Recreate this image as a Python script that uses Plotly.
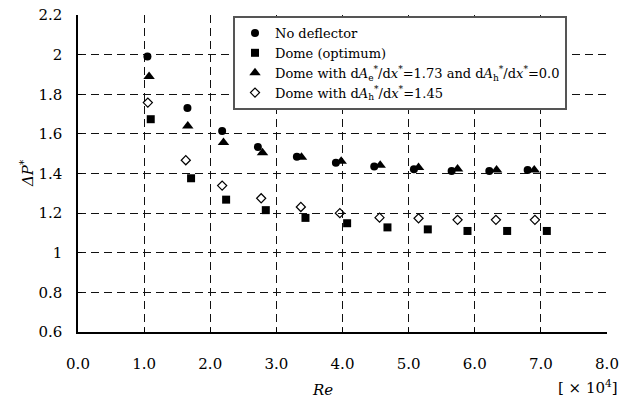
import plotly.graph_objects as go

x_nodef = [1.05, 1.655, 2.18, 2.72, 3.31, 3.90, 4.48, 5.08, 5.65, 6.22, 6.80]
y_nodef = [1.99, 1.73, 1.615, 1.534, 1.484, 1.454, 1.435, 1.421, 1.413, 1.413, 1.418]

x_opt = [1.10, 1.71, 2.24, 2.84, 3.44, 4.07, 4.68, 5.29, 5.89, 6.49, 7.09]
y_opt = [1.674, 1.376, 1.268, 1.215, 1.176, 1.149, 1.128, 1.118, 1.11, 1.11, 1.11]

x_tri = [1.075, 1.66, 2.20, 2.79, 3.38, 3.98, 4.57, 5.15, 5.74, 6.33, 6.90]
y_tri = [1.889, 1.64, 1.556, 1.505, 1.482, 1.462, 1.442, 1.43, 1.423, 1.418, 1.418]

x_dia = [1.056, 1.63, 2.18, 2.77, 3.37, 3.96, 4.56, 5.15, 5.74, 6.32, 6.91]
y_dia = [1.758, 1.467, 1.339, 1.275, 1.231, 1.20, 1.177, 1.174, 1.166, 1.166, 1.166]

names = [
    "No deflector",
    "Dome (optimum)",
    "Dome with d<i>A</i><sub>e</sub><sup>*</sup>/d<i>x</i><sup>*</sup>=1.73 and d<i>A</i><sub>h</sub><sup>*</sup>/d<i>x</i><sup>*</sup>=0.0",
    "Dome with d<i>A</i><sub>h</sub><sup>*</sup>/d<i>x</i><sup>*</sup>=1.45",
]

x_ticks = [0, 1, 2, 3, 4, 5, 6, 7, 8]
x_ticktext = ["0.0", "1.0", "2.0", "3.0", "4.0", "5.0", "6.0", "7.0", "8.0"]
y_ticks = [0.6, 0.8, 1.0, 1.2, 1.4, 1.6, 1.8, 2.0, 2.2]
y_ticktext = ["0.6", "0.8", "1", "1.2", "1.4", "1.6", "1.8", "2", "2.2"]

FONT = "DejaVu Serif"

fig = go.Figure()
fig.add_trace(go.Scatter(x=x_nodef, y=y_nodef, mode="markers", name=names[0],
                         marker=dict(symbol="circle", size=8, color="black")))
fig.add_trace(go.Scatter(x=x_opt, y=y_opt, mode="markers", name=names[1],
                         marker=dict(symbol="square", size=8, color="black")))
fig.add_trace(go.Scatter(x=x_tri, y=y_tri, mode="markers", name=names[2],
                         marker=dict(symbol="triangle-up", size=10, color="black")))
fig.add_trace(go.Scatter(x=x_dia, y=y_dia, mode="markers", name=names[3],
                         marker=dict(symbol="diamond-open", size=7, color="black",
                                     line=dict(width=1.2, color="black"))))

fig.update_layout(
    width=629, height=398,
    margin=dict(l=78, r=22, t=15, b=66, autoexpand=False),
    paper_bgcolor="white", plot_bgcolor="white",
    font=dict(family=FONT, size=15, color="black"),
    showlegend=True,
    legend=dict(x=(233 - 78) / 529, y=0.997, xanchor="left", yanchor="top",
                bgcolor="white", bordercolor="#555", borderwidth=2,
                font=dict(family=FONT, size=13, color="black"), itemwidth=30,
                tracegroupgap=0, traceorder="normal"),
    xaxis=dict(range=[0, 8], tickvals=x_ticks, ticktext=x_ticktext,
               tickfont=dict(family=FONT, size=15, color="black"),
               showline=True, linecolor="black", linewidth=1.5,
               ticks="inside", ticklen=4, tickcolor="black",
               showgrid=True, gridcolor="#111", gridwidth=1, griddash="8px,5px",
               zeroline=False, ticklabelstandoff=17),
    yaxis=dict(range=[0.6, 2.2], tickvals=y_ticks, ticktext=y_ticktext,
               tickfont=dict(family=FONT, size=15, color="black"),
               showline=True, linecolor="black", linewidth=1.5,
               ticks="inside", ticklen=4, tickcolor="black",
               showgrid=True, gridcolor="#111", gridwidth=1, griddash="8px,5px",
               zeroline=False, ticklabelstandoff=11),
    annotations=[
        dict(text="<i>Re</i>", xref="paper", yref="paper", x=(322 - 78) / 529, y=-(390 - 332) / 317,
             showarrow=False, xanchor="center", yanchor="middle", font=dict(family=FONT, size=15)),
        dict(text="[ × 10<sup>4</sup>]", xref="paper", yref="paper", x=(588 - 78) / 529, y=-(387 - 332) / 317,
             showarrow=False, xanchor="center", yanchor="middle", font=dict(family=FONT, size=15)),
        dict(text="<i>ΔP</i><sup>*</sup>", xref="paper", yref="paper", x=-(78 - 27) / 529, y=(332 - 173) / 317,
             showarrow=False, xanchor="center", yanchor="middle", textangle=-90, font=dict(family=FONT, size=15)),
    ],
)

fig.write_html("out.html")
